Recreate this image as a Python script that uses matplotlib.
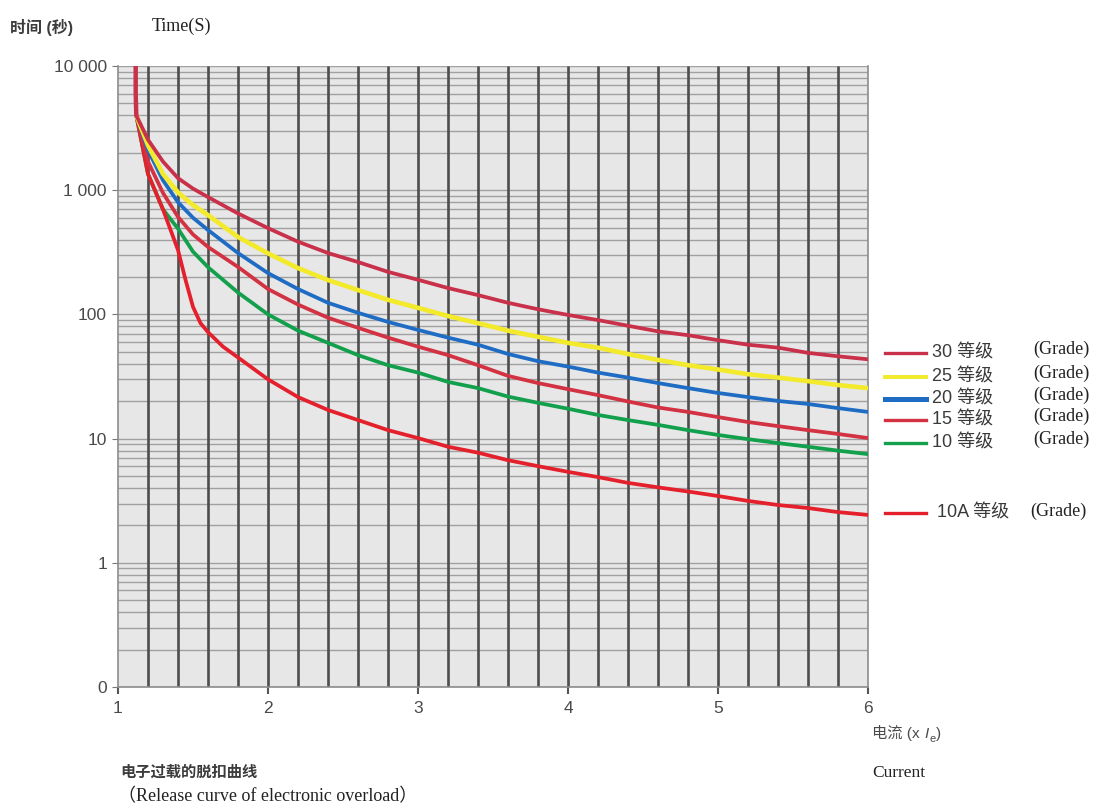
import numpy as np
import matplotlib
matplotlib.use("Agg")
import matplotlib.pyplot as plt
from matplotlib.lines import Line2D
from matplotlib.ticker import FixedLocator, NullFormatter, LogLocator

# ---------------- data ----------------
start_x = [1.118, 1.118, 1.122]
start_t = [10000, 6000, 4000]

x_main = [1.122, 1.2, 1.3, 1.4, 1.5, 1.6, 1.8, 2.0, 2.2, 2.4, 2.6, 2.8, 3.0,
          3.2, 3.4, 3.6, 3.8, 4.0, 4.2, 4.4, 4.6, 4.8, 5.0, 5.2, 5.4, 5.6,
          5.8, 6.0]
t_class30 = [4000, 2550, 1700, 1250, 1030, 880, 650, 495, 385, 312, 264, 220,
             190, 163, 143, 124, 110, 99, 90, 81, 73, 68, 62, 57, 54, 49, 46, 43.5]
t_class25 = [4000, 2300, 1350, 960, 760, 630, 420, 310, 236, 189, 157, 131,
             113, 97, 85, 74, 66, 59, 54, 48, 43, 39, 36, 33, 31, 29, 27, 25.5]
t_class20 = [4000, 2100, 1200, 800, 600, 478, 312, 215, 160, 124, 103, 87,
             75, 65, 57, 48, 42, 38, 34, 31, 28, 25.5, 23.3, 21.6, 20.1, 19,
             17.6, 16.4]
t_class15 = [4000, 1700, 950, 610, 440, 349, 241, 160, 120, 94, 78, 65, 55,
             47, 39, 32, 28, 25, 22.4, 19.9, 17.8, 16.4, 14.9, 13.6, 12.6,
             11.7, 10.9, 10.1]
t_class10 = [4000, 1350, 700, 490, 320, 240, 150, 100, 74, 59, 47, 39, 34,
             28.6, 25.5, 21.8, 19.4, 17.4, 15.5, 14.1, 12.9, 11.7, 10.7, 9.9,
             9.2, 8.6, 8.0, 7.5]

x_10a = [1.122, 1.2, 1.3, 1.4, 1.45, 1.5, 1.55, 1.6, 1.7, 1.8, 2.0, 2.2, 2.4,
         2.6, 2.8, 3.0, 3.2, 3.4, 3.6, 3.8, 4.0, 4.2, 4.4, 4.6, 4.8, 5.0, 5.2,
         5.4, 5.6, 5.8, 6.0]
t_class10a = [4000, 1350, 700, 330, 190, 115, 85, 72, 55, 45, 30, 21.6, 17,
              14.1, 11.7, 10.1, 8.6, 7.7, 6.7, 6.0, 5.4, 4.9, 4.4, 4.05, 3.75,
              3.45, 3.15, 2.92, 2.76, 2.56, 2.43]

legend_nums = ["30", "25", "20", "15", "10", "10A"]

y_ticks = [0.1, 1, 10, 100, 1000, 10000]
y_labels = ["0", "1", "10", "100", "1 000", "10 000"]
x_ticks = [1, 2, 3, 4, 5, 6]
x_labels = ["1", "2", "3", "4", "5", "6"]

# ---------------- styling ----------------
W, H = 1119, 809
SANS = ["Liberation Sans", "Noto Sans CJK SC", "DejaVu Sans"]
SERIF = ["Liberation Serif", "Noto Sans CJK SC", "DejaVu Serif"]
plt.rcParams["font.family"] = SANS

c30 = "#c9304a"
c25 = "#f2ea2a"
c20 = "#1f6cc4"
c15 = "#d23242"
c10 = "#12a04c"
c10a = "#e4202c"

fig = plt.figure(figsize=(W / 100, H / 100), dpi=100)
fig.patch.set_facecolor("white")
ax = fig.add_axes([118 / W, 1 - 687 / H, 750 / W, 621 / H])
ax.set_facecolor("#e7e7e7")
ax.set_yscale("log")
ax.set_xlim(1, 6)
ax.set_ylim(0.1, 10000)

# horizontal log grid
ax.yaxis.set_major_locator(FixedLocator(y_ticks))
ax.yaxis.set_minor_locator(LogLocator(base=10, subs=np.arange(2, 10)))
ax.yaxis.set_minor_formatter(NullFormatter())
ax.set_yticklabels(y_labels)
ax.grid(True, axis="y", which="both", color="#a0a0a0", lw=1.0, zorder=1)
ax.tick_params(axis="y", which="minor", length=0)
ax.tick_params(axis="y", which="major", length=4, color="#777777",
               labelsize=12.5, labelcolor="#4a4a4a", pad=4)

# vertical grid every 0.2
vx = np.arange(1.2, 5.9, 0.2)
ax.vlines(vx, 0.1, 10000, colors="#4d4d4d", lw=1.9, zorder=2)

ax.set_xticks(x_ticks)
ax.set_xticklabels(x_labels)
ax.tick_params(axis="x", which="major", length=5, width=1.5, color="#555555",
               labelsize=12.5, labelcolor="#4a4a4a", pad=5)

for s in ["left", "bottom", "right"]:
    ax.spines[s].set_color("#8c8c8c")
    ax.spines[s].set_linewidth(1.2)
ax.spines["top"].set_visible(False)

lw = 2.7
kw = dict(solid_capstyle="round", solid_joinstyle="round")
ax.plot(x_main, t_class10, color=c10, lw=lw, zorder=4, **kw)
ax.plot(x_10a, t_class10a, color=c10a, lw=lw, zorder=5, **kw)
ax.plot(x_main, t_class15, color=c15, lw=lw, zorder=5, **kw)
ax.plot(x_main, t_class20, color=c20, lw=lw, zorder=5, **kw)
ax.plot(x_main, t_class25, color=c25, lw=lw + 0.6, zorder=5, **kw)
ax.plot(x_main, t_class30, color=c30, lw=lw, zorder=6, **kw)
ax.plot(start_x, start_t, color=c30, lw=lw + 0.5, zorder=6, **kw)

# ---------------- legend (manual, at right) ----------------
leg_colors = [c30, c25, c20, c15, c10, c10a]
leg_y = [353, 377, 399, 420, 443, 513]
leg_lw = [2.4, 2.8, 3.6, 2.4, 2.4, 2.4]
for num, col, yy, w in zip(legend_nums, leg_colors, leg_y, leg_lw):
    fy = 1 - yy / H
    fig.add_artist(Line2D([885 / W, 926 / W], [fy, fy], color=col, lw=w,
                          transform=fig.transFigure))
    if num == "10A":
        fig.text(937 / W, fy, num + " 等级", family=SANS, fontsize=13,
                 color="#3a3a3a", va="center", ha="left")
        fig.text(1030 / W, fy + 0.002, "(Grade)", family=SERIF, fontsize=13,
                 color="#222222", va="center", ha="left")
    else:
        fig.text(932 / W, fy, num + " 等级", family=SANS, fontsize=13,
                 color="#3a3a3a", va="center", ha="left")
        fig.text(1033 / W, fy + 0.004, "(Grade)", family=SERIF, fontsize=13,
                 color="#222222", va="center", ha="left")

# ---------------- texts ----------------
fig.text(10 / W, 1 - 27 / H, "时间 (秒)", family=SANS, fontsize=11.5,
         weight="bold", color="#3c3c3c", va="center", ha="left")
fig.text(152 / W, 1 - 26 / H, "Time(S)", family=SERIF, fontsize=13,
         color="#222222", va="center", ha="left")

# x-axis unit label: 电流 (x Ie) built from pieces
renderer = fig.canvas.get_renderer()
xpix = 872
ybase = 1 - 738 / H
pieces = [("电流 (x ", dict(fontsize=11), 0),
          ("I", dict(fontsize=11, style="italic"), 0),
          ("e", dict(fontsize=8), -4),
          (")", dict(fontsize=11), 0)]
for txt, props, dy in pieces:
    t = fig.text(xpix / W, ybase + dy / H, txt, family=SANS, color="#4a4a4a",
                 va="baseline", ha="left", **props)
    bb = t.get_window_extent(renderer=renderer)
    xpix += bb.width + 0.5

fig.text(872 / W, 1 - 773 / H, "Current", family=SERIF, fontsize=12.5,
         color="#222222", va="center", ha="left")
fig.text(120 / W, 1 - 772 / H, "电子过载的脱扣曲线", family=SANS, fontsize=11,
         weight="bold", color="#3c3c3c", va="center", ha="left")
fig.text(118 / W, 1 - 797 / H, "（Release curve of electronic overload）",
         family=SERIF, fontsize=13, color="#222222", va="center", ha="left")

fig.savefig("out.png", dpi=100, facecolor="white")
